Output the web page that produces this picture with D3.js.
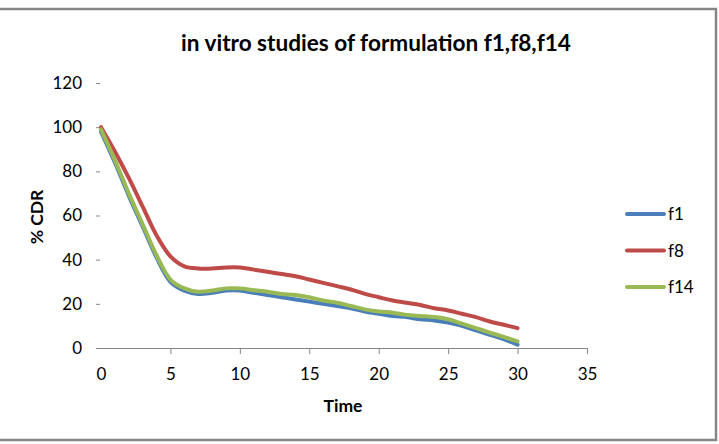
<!DOCTYPE html>
<html>
<head>
<meta charset="utf-8">
<script src="https://cdn.jsdelivr.net/npm/d3@7"></script>
<style>
  body { margin: 0; background: #fff; }
  text { font-family: Lato, "Open Sans", sans-serif; fill: #000; }
</style>
</head>
<body>
<div id="chart"></div>
<script>
// chart data
var times = [0, 1, 2, 3, 4, 5, 6, 7, 8, 9, 10, 11, 12, 13, 14, 15, 16, 17, 18, 19, 20,
             21, 22, 23, 24, 25, 26, 27, 28, 29, 30];
var f1 = [98, 84, 69, 55, 41, 30, 26, 24.5, 25, 26, 26, 25, 24, 23, 22, 21, 20, 19, 18, 16.5, 15.5,
          14.5, 14, 13, 12.5, 11.5, 10, 8, 6, 4, 1.5];
var f8 = [100, 89, 77, 64, 51, 41.5, 37, 36, 36, 36.5, 36.5, 35.5, 34.5, 33.5, 32.5, 31, 29.5, 28, 26.5, 24.5, 23,
          21.5, 20.5, 19.5, 18, 17, 15.5, 14, 12, 10.5, 9];
var f14 = [99, 85, 70, 56, 42, 31, 27, 25.5, 26, 27, 27, 26.2, 25.5, 24.5, 24, 23, 21.5, 20.5, 19, 17.5, 16.5,
           16, 15, 14.5, 14, 13, 11, 9, 7, 5, 3];
var seriesNames = ["f1", "f8", "f14"];
var seriesColors = ["#4a7ebb", "#be4b48", "#98b954"];
var xTicks = [0, 5, 10, 15, 20, 25, 30, 35];
var yTicks = [0, 20, 40, 60, 80, 100, 120];

var W = 719, H = 444;
var svg = d3.select("#chart").append("svg")
    .attr("width", W).attr("height", H);

// outer frame
svg.append("rect")
    .attr("x", -5).attr("y", 9)
    .attr("width", 721).attr("height", 431)
    .attr("fill", "#fff")
    .attr("stroke", "#868686")
    .attr("stroke-width", 2.5);

var xScale = d3.scaleLinear().domain([0, 35]).range([101, 587]);
var yScale = d3.scaleLinear().domain([0, 120]).range([348, 83]);

// title
svg.append("text")
    .attr("x", 376).attr("y", 51)
    .attr("text-anchor", "middle")
    .style("font-size", "22.6px")
    .style("font-weight", "bold")
    .text("in vitro studies of formulation f1,f8,f14");

// y axis: ticks and labels only
var yAxis = d3.axisLeft(yScale).tickValues(yTicks).tickSize(4).tickPadding(14);
var gy = svg.append("g").attr("transform", "translate(100,0)").call(yAxis);
gy.select(".domain").remove();
gy.selectAll(".tick line").attr("stroke", "#868686");
gy.selectAll(".tick text").style("font-size", "17px").style("font-family", "Lato, sans-serif").attr("fill", "#000");

// x axis
var xAxis = d3.axisBottom(xScale).tickValues(xTicks).tickSize(6).tickSizeOuter(0).tickPadding(14);
var gx = svg.append("g").attr("transform", "translate(0,348)").call(xAxis);
gx.select(".domain").attr("stroke", "#868686").attr("d", "M96,0.5H587");
gx.selectAll(".tick line").attr("stroke", "#868686")
  .attr("display", function(d) { return d === 0 ? "none" : null; });
gx.selectAll(".tick text").style("font-size", "17px").style("font-family", "Lato, sans-serif").attr("fill", "#000");

// axis titles
svg.append("text")
    .attr("x", 343).attr("y", 412)
    .attr("text-anchor", "middle")
    .style("font-size", "17.5px").style("font-weight", "bold")
    .text("Time");

svg.append("text")
    .attr("transform", "translate(43,217) rotate(-90)")
    .attr("text-anchor", "middle")
    .style("font-size", "17.5px").style("font-weight", "bold")
    .text("% CDR");

// lines
var allSeries = [f1, f8, f14];
var line = d3.line()
    .x(function(d, i) { return xScale(times[i]); })
    .y(function(d) { return yScale(d); })
    .curve(d3.curveCatmullRom.alpha(0.5));

allSeries.forEach(function(s, k) {
  svg.append("path")
      .datum(s)
      .attr("d", line)
      .attr("fill", "none")
      .attr("stroke", seriesColors[k])
      .attr("stroke-width", 4)
      .attr("stroke-linejoin", "round")
      .attr("stroke-linecap", "round");
});

// legend
var legend = svg.append("g");
seriesNames.forEach(function(name, k) {
  var y = 214 + k * 36.5;
  legend.append("line")
      .attr("x1", 627).attr("x2", 664)
      .attr("y1", y).attr("y2", y)
      .attr("stroke", seriesColors[k])
      .attr("stroke-width", 4)
      .attr("stroke-linecap", "round");
  legend.append("text")
      .attr("x", 668).attr("y", y + 6)
      .style("font-size", "17px")
      .text(name);
});
</script>
</body>
</html>
